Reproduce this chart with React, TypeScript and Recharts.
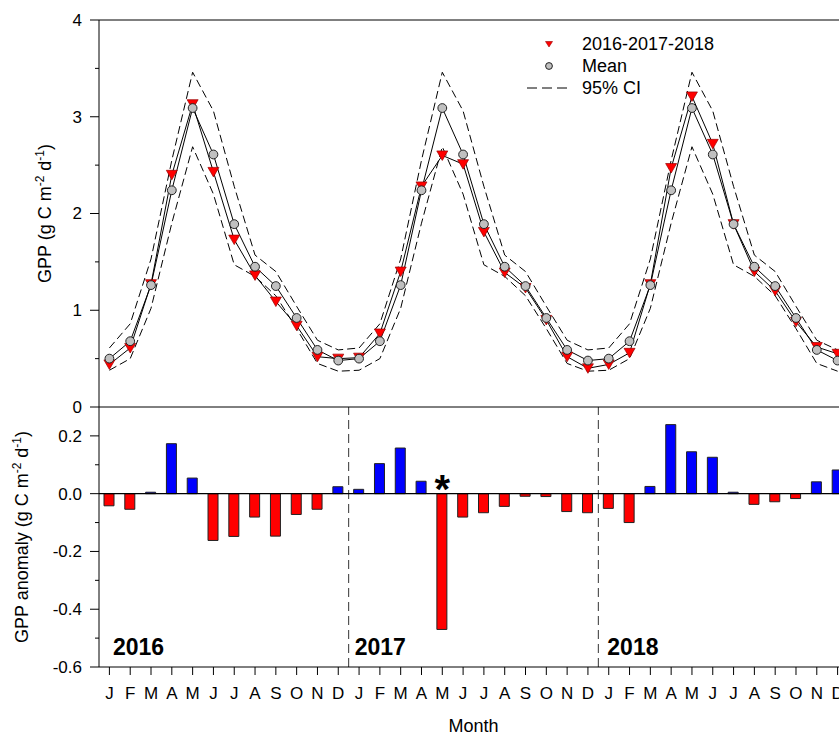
import React from 'react';
import {
  ComposedChart,
  Line,
  Bar,
  Cell,
  XAxis,
  YAxis,
  ReferenceLine,
  ReferenceDot,
  Legend,
} from 'recharts';

// ---------------- data ----------------
const monthLetters = ['J', 'F', 'M', 'A', 'M', 'J', 'J', 'A', 'S', 'O', 'N', 'D'];
const yearNames = ['2016', '2017', '2018'];

const meanGpp = [0.5, 0.68, 1.26, 2.24, 3.09, 2.61, 1.89, 1.45, 1.25, 0.92, 0.59, 0.48];
const ciUpper = [0.61, 0.86, 1.53, 2.55, 3.46, 3.06, 2.28, 1.57, 1.4, 1.04, 0.69, 0.59];
const ciLower = [0.38, 0.5, 1.02, 1.9, 2.69, 2.2, 1.47, 1.35, 1.15, 0.81, 0.45, 0.37];

const gpp2016 = [0.44, 0.61, 1.27, 2.4, 3.13, 2.43, 1.73, 1.36, 1.09, 0.84, 0.52, 0.5];
const gpp2017 = [0.51, 0.76, 1.4, 2.28, 2.6, 2.51, 1.81, 1.39, 1.23, 0.9, 0.52, 0.4];
const gpp2018 = [0.44, 0.56, 1.27, 2.47, 3.21, 2.72, 1.89, 1.4, 1.2, 0.88, 0.62, 0.55];

const anom2016 = [-0.042, -0.054, 0.005, 0.173, 0.054, -0.162, -0.148, -0.081, -0.147, -0.072, -0.054, 0.024];
const anom2017 = [0.015, 0.104, 0.158, 0.043, -0.47, -0.081, -0.066, -0.044, -0.009, -0.01, -0.062, -0.066];
const anom2018 = [-0.051, -0.1, 0.025, 0.239, 0.145, 0.126, 0.005, -0.037, -0.028, -0.017, 0.041, 0.082];

const significantMonthIndex = [16]; // May 2017

const gppTicks = [0, 0.5, 1, 1.5, 2, 2.5, 3, 3.5, 4];
const gppLabelTicks = [0, 1, 2, 3, 4];
const anomTicks = [-0.6, -0.5, -0.4, -0.3, -0.2, -0.1, 0, 0.1, 0.2];
const anomLabelTicks = [-0.6, -0.4, -0.2, 0, 0.2];

// ---------------- derived tables ----------------
const observed = [...gpp2016, ...gpp2017, ...gpp2018];
const anomalies = [...anom2016, ...anom2017, ...anom2018];
const monthIdx = observed.map((_, i) => i);
const yearStarts = yearNames.map((_, k) => k * 12 - 0.5);

const topData = observed.map((v, i) => ({
  i,
  obs: v,
  mean: meanGpp[i % 12],
  hi: ciUpper[i % 12],
  lo: ciLower[i % 12],
}));
const bottomData = anomalies.map((v, i) => ({ i, anom: v }));

// ---------------- styling constants ----------------
const FONT = '"Liberation Sans", Arial, Helvetica, sans-serif';
const CHART_W = 870;
const AXIS_W = 99;
const MARGIN_R = 22;
const TICK_LEN = 9;
const TICK_GAP = 8;
const yearLabelDx = [14, 6, 9];

const makeYTick = (labels: number[], fmt: (v: number) => string) => (props: any) => {
  const { x, y, payload } = props;
  const v = payload.value;
  const major = labels.some((l) => Math.abs(l - v) < 1e-9);
  const axisX = x + TICK_LEN + TICK_GAP;
  return (
    <g>
      <line x1={axisX - (major ? TICK_LEN : 4)} x2={axisX} y1={y} y2={y} stroke="#000" strokeWidth={1} />
      {major && (
        <text x={x} y={y} dy="0.35em" textAnchor="end" fontSize={17} fill="#000" fontFamily={FONT}>
          {fmt(v)}
        </text>
      )}
    </g>
  );
};

const GppTick = makeYTick(gppLabelTicks, (v) => String(v));
const AnomTick = makeYTick(anomLabelTicks, (v) => (Math.abs(v) < 1e-9 ? '0.0' : v.toFixed(1)));

const TriangleDot = (props: any) => {
  const { cx, cy, index } = props;
  if (cx == null || cy == null) return null;
  return (
    <path
      key={`t${index}`}
      d={`M${cx - 5.5},${cy - 4.5} L${cx + 5.5},${cy - 4.5} L${cx},${cy + 5} Z`}
      fill="#ff0000"
      stroke="#9a0000"
      strokeWidth={0.7}
    />
  );
};

const CircleDot = (props: any) => {
  const { cx, cy, index } = props;
  if (cx == null || cy == null) return null;
  return <circle key={`c${index}`} cx={cx} cy={cy} r={4.4} fill="#c0c0c0" stroke="#222" strokeWidth={1} />;
};

const unitsTspans = (
  <>
    {' (g C m'}
    <tspan dy={-7} fontSize={12}>-2</tspan>
    <tspan dy={7}>{' d'}</tspan>
    <tspan dy={-7} fontSize={12}>-1</tspan>
    <tspan dy={7}>)</tspan>
  </>
);

const makeYTitle = (text: string, baselineX: number) => (props: any) => {
  const vb = props.viewBox || {};
  const cy = vb.y + vb.height / 2;
  return (
    <text
      x={baselineX}
      y={cy}
      transform={`rotate(-90, ${baselineX}, ${cy})`}
      textAnchor="middle"
      fontSize={18}
      fill="#000"
      fontFamily={FONT}
    >
      {text}
      {unitsTspans}
    </text>
  );
};

const MonthTitle = (props: any) => {
  const vb = props.viewBox || {};
  return (
    <text x={vb.x + vb.width / 2} y={vb.y + 65} textAnchor="middle" fontSize={18} fill="#000" fontFamily={FONT}>
      Month
    </text>
  );
};

const makeYearLabel = (name: string, dx: number) => (props: any) => {
  const vb = props.viewBox || {};
  return (
    <text
      x={vb.x + dx}
      y={vb.y + vb.height - 12}
      fontSize={23}
      fontWeight="bold"
      fill="#000"
      fontFamily={FONT}
    >
      {name}
    </text>
  );
};

const Asterisk = (props: any) => {
  const { cx, cy } = props;
  return (
    <text x={cx} y={cy + 9} textAnchor="middle" fontSize={40} fontWeight="bold" fill="#000" fontFamily={FONT}>
      *
    </text>
  );
};

const LegendBox = () => (
  <svg width={230} height={70} style={{ overflow: 'visible' }}>
    <path d="M25.5,11.5 L32.5,11.5 L29,17 Z" fill="#ff0000" stroke="#9a0000" strokeWidth={0.6} />
    <text x={62} y={14} dy="0.35em" fontSize={18} fill="#000" fontFamily={FONT}>
      2016-2017-2018
    </text>
    <circle cx={29} cy={36} r={3.4} fill="#c0c0c0" stroke="#222" strokeWidth={1} />
    <text x={62} y={36} dy="0.35em" fontSize={18} fill="#000" fontFamily={FONT}>
      Mean
    </text>
    <line x1={7} x2={48} y1={58} y2={58} stroke="#000" strokeWidth={1} strokeDasharray="10 5" />
    <text x={62} y={58} dy="0.35em" fontSize={18} fill="#000" fontFamily={FONT}>
      95% CI
    </text>
  </svg>
);

export default function App() {
  return (
    <div
      style={{
        position: 'fixed',
        left: 0,
        top: 0,
        width: 839,
        height: 736,
        overflow: 'hidden',
        background: '#fff',
        fontFamily: FONT,
      }}
    >
      <div style={{ position: 'absolute', left: 0, top: 0 }}>
        <ComposedChart
          width={CHART_W}
          height={420}
          data={topData}
          margin={{ top: 20, right: MARGIN_R, bottom: 13, left: 0 }}
        >
          <XAxis dataKey="i" type="number" domain={[-0.5, 35.5]} ticks={monthIdx} allowDataOverflow hide />
          <YAxis
            type="number"
            domain={[0, 4]}
            ticks={gppTicks}
            interval={0}
            allowDataOverflow
            width={AXIS_W}
            tickSize={TICK_LEN}
            tickMargin={TICK_GAP}
            tickLine={{ stroke: 'none' }}
            axisLine={{ stroke: '#000', strokeWidth: 1 }}
            tick={GppTick}
            label={makeYTitle('GPP', 51)}
          />
          <ReferenceLine y={4} stroke="#000" strokeWidth={1} />
          <Line dataKey="hi" stroke="#000" strokeWidth={1} strokeDasharray="8 4" dot={false} isAnimationActive={false} />
          <Line dataKey="lo" stroke="#000" strokeWidth={1} strokeDasharray="8 4" dot={false} isAnimationActive={false} />
          <Line dataKey="obs" stroke="#000" strokeWidth={1} dot={TriangleDot} activeDot={false} isAnimationActive={false} />
          <Line dataKey="mean" stroke="#000" strokeWidth={1} dot={CircleDot} activeDot={false} isAnimationActive={false} />
          <Legend
            layout="vertical"
            align="center"
            verticalAlign="middle"
            content={LegendBox}
            wrapperStyle={{ position: 'absolute', left: 520, top: 30, width: 230, height: 70 }}
          />
        </ComposedChart>
      </div>
      <div style={{ position: 'absolute', left: 0, top: 380 }}>
        <ComposedChart
          width={CHART_W}
          height={356}
          data={bottomData}
          margin={{ top: 27, right: MARGIN_R, bottom: 39, left: 0 }}
        >
          <XAxis
            dataKey="i"
            type="number"
            domain={[-0.5, 35.5]}
            ticks={monthIdx}
            interval={0}
            allowDataOverflow
            height={30}
            tickSize={8}
            tickMargin={12}
            tickFormatter={(i: number) => monthLetters[i % 12]}
            tick={{ fontSize: 17, fill: '#000', fontFamily: FONT }}
            tickLine={{ stroke: '#000' }}
            axisLine={{ stroke: '#000', strokeWidth: 1 }}
            label={MonthTitle}
          />
          <XAxis
            xAxisId="top"
            orientation="top"
            dataKey="i"
            type="number"
            domain={[-0.5, 35.5]}
            ticks={monthIdx}
            interval={0}
            allowDataOverflow
            mirror
            tick={false}
            tickSize={8}
            tickLine={{ stroke: '#000' }}
            axisLine={{ stroke: '#000', strokeWidth: 1 }}
          />
          <YAxis
            type="number"
            domain={[-0.6, 0.3]}
            ticks={anomTicks}
            interval={0}
            allowDataOverflow
            width={AXIS_W}
            tickSize={TICK_LEN}
            tickMargin={TICK_GAP}
            tickLine={{ stroke: 'none' }}
            axisLine={{ stroke: '#000', strokeWidth: 1 }}
            tick={AnomTick}
            label={makeYTitle('GPP anomaly', 28)}
          />
          {yearStarts.map((x, k) => (
            <ReferenceLine
              key={yearNames[k]}
              x={x}
              stroke={k === 0 ? 'none' : '#333'}
              strokeWidth={1}
              strokeDasharray="9 5"
              label={makeYearLabel(yearNames[k], yearLabelDx[k])}
            />
          ))}
          <Bar dataKey="anom" barSize={10} stroke="#222" strokeWidth={1} isAnimationActive={false}>
            {bottomData.map((d) => (
              <Cell key={d.i} fill={d.anom >= 0 ? '#0000ff' : '#ff0000'} />
            ))}
          </Bar>
          <ReferenceLine y={0} stroke="#000" strokeWidth={1.2} />
          {significantMonthIndex.map((m) => (
            <ReferenceDot key={m} x={m} y={0} r={0} shape={Asterisk} />
          ))}
        </ComposedChart>
      </div>
    </div>
  );
}
